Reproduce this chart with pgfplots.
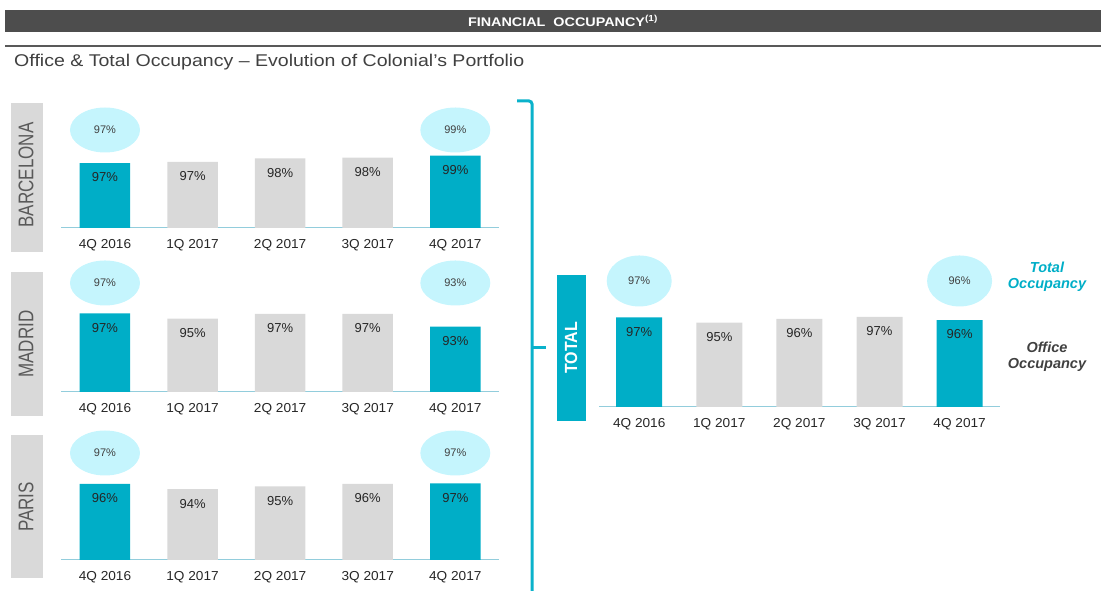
\documentclass[border=0pt]{standalone}
\usepackage{fontspec}
\setmainfont{Liberation Sans}
\usepackage{pgfplots}
\pgfplotsset{compat=1.18}
\usetikzlibrary{shapes.geometric}
\definecolor{cyanbar}{HTML}{00AEC7}
\definecolor{graybar}{HTML}{D9D9D9}
\definecolor{ellcol}{HTML}{C5F5FD}
\definecolor{basecol}{HTML}{92CDDC}
\definecolor{bracketcol}{HTML}{0AB2CB}
\definecolor{headcol}{HTML}{4D4D4D}
\definecolor{labcol}{HTML}{262626}
\definecolor{boxtext}{HTML}{595959}
\definecolor{elltext}{HTML}{404040}
\definecolor{subcol}{HTML}{404040}

\pgfplotsset{
  occ/.style={scale only axis, anchor=south west,
    xmin=-0.5, xmax=4.5,
    axis x line=bottom, axis y line=none,
    x axis line style={-, draw=basecol, line width=1pt},
    xtick={0,1,2,3,4},
    xticklabels={4Q 2016,1Q 2017,2Q 2017,3Q 2017,4Q 2017},
    ytick=\empty,
    major tick length=0pt,
    xticklabel style={font=\fontsize{13}{15}\selectfont, text=labcol, inner sep=0pt, anchor=north, yshift=-11pt, xscale=1.05}},
  cbar/.style={ybar, bar shift=0pt, fill=cyanbar, draw=none},
  gbar/.style={ybar, bar shift=0pt, fill=graybar, draw=none},
  barlab/.style={nodes near coords, point meta=explicit symbolic,
    every node near coord/.style={anchor=north, inner sep=0pt, yshift=-9.5pt, font=\fontsize{13}{15}\selectfont, text=labcol}},
  ell/.style 2 args={draw=none, mark=none, nodes near coords, point meta=explicit symbolic,
    every node near coord/.style={ellipse, fill=ellcol, minimum width=#1, minimum height=#2, inner sep=0pt, anchor=center, font=\fontsize{11}{13}\selectfont, text=elltext}},
}

\begin{document}
\begin{tikzpicture}
\useasboundingbox (0,0) rectangle (1101pt,591pt);
% header
\fill[headcol] (5pt,559pt) rectangle (1101pt,581pt);
\node[text=white, font=\bfseries\fontsize{12.5}{14}\selectfont, xscale=1.15] at (563pt,570pt) {FINANCIAL\ \ OCCUPANCY\textsuperscript{(1)}};
\draw[boxtext, line width=2pt] (5pt,545pt) -- (1101pt,545pt);
\node[anchor=base west, text=subcol, font=\fontsize{17}{19}\selectfont, inner sep=0pt, xscale=1.15] at (14pt,524.5pt) {Office \& Total Occupancy -- Evolution of Colonial's Portfolio};

% side label boxes
\fill[graybar] (11pt,488pt) rectangle (43pt,339pt);
\fill[graybar] (11pt,319pt) rectangle (43pt,175pt);
\fill[graybar] (11pt,156pt) rectangle (43pt,13pt);
\node[xscale=1.25, rotate=90, text=boxtext, font=\fontsize{17}{19}\selectfont] at (26pt,416pt) {BARCELONA};
\node[xscale=1.25, rotate=90, text=boxtext, font=\fontsize{17}{19}\selectfont] at (26pt,247pt) {MADRID};
\node[xscale=1.25, rotate=90, text=boxtext, font=\fontsize{17}{19}\selectfont] at (26pt,84pt) {PARIS};

% bracket
\draw[bracketcol, line width=3pt, rounded corners=3pt] (517pt,490pt) -- (532pt,490pt) -- (532pt,-5pt);
\draw[bracketcol, line width=3pt] (531pt,243pt) -- (546pt,243pt);

% TOTAL box
\fill[cyanbar] (556.5pt,316pt) rectangle (586pt,170pt);
\node[xscale=1.1, rotate=90, text=white, font=\bfseries\fontsize{16}{18}\selectfont] at (571pt,243pt) {TOTAL};

% legend text
\node[text=cyanbar, font=\bfseries\itshape\fontsize{14.5}{16}\selectfont] at (1047pt,324pt) {Total};
\node[text=cyanbar, font=\bfseries\itshape\fontsize{14.5}{16}\selectfont] at (1047pt,306pt) {Occupancy};
\node[text=subcol, font=\bfseries\itshape\fontsize{14.5}{16}\selectfont] at (1047pt,244pt) {Office};
\node[text=subcol, font=\bfseries\itshape\fontsize{14.5}{16}\selectfont] at (1047pt,226pt) {Occupancy};

% BARCELONA
\begin{axis}[occ, at={(61.2pt,363pt)}, width=437.9pt, height=160pt, ymin=80.8, ymax=120.8]
\addplot[cbar, bar width=50.5pt, barlab] coordinates {(0,97.0)[97\%] (4,98.9)[99\%]};
\addplot[gbar, bar width=50.5pt, barlab] coordinates {(1,97.3)[97\%] (2,98.2)[98\%] (3,98.4)[98\%]};
\addplot[ell={70pt}{45pt}] coordinates {(0,105.3)[97\%] (4,105.3)[99\%]};
\end{axis}

% MADRID
\begin{axis}[occ, at={(61.2pt,199pt)}, width=437.9pt, height=160pt, ymin=73.5, ymax=121.26]
\addplot[cbar, bar width=50.5pt, barlab] coordinates {(0,97.0)[97\%] (4,93.0)[93\%]};
\addplot[gbar, bar width=50.5pt, barlab] coordinates {(1,95.4)[95\%] (2,96.8)[97\%] (3,96.8)[97\%]};
\addplot[ell={70pt}{45pt}] coordinates {(0,106.04)[97\%] (4,106.04)[93\%]};
\end{axis}

% PARIS
\begin{axis}[occ, at={(61.2pt,31pt)}, width=437.9pt, height=160pt, ymin=67.6, ymax=127.98]
\addplot[cbar, bar width=50.5pt, barlab] coordinates {(0,96.3)[96\%] (4,96.5)[97\%]};
\addplot[gbar, bar width=50.5pt, barlab] coordinates {(1,94.3)[94\%] (2,95.4)[95\%] (3,96.3)[96\%]};
\addplot[ell={70pt}{45pt}] coordinates {(0,107.98)[97\%] (4,107.98)[97\%]};
\end{axis}

% TOTAL
\begin{axis}[occ, at={(599.15pt,184pt)}, width=400.5pt, height=170pt, ymin=63.8, ymax=126.76]
\addplot[cbar, bar width=46pt, barlab] coordinates {(0,97.0)[97\%] (4,96.0)[96\%]};
\addplot[gbar, bar width=46pt, barlab] coordinates {(1,95.0)[95\%] (2,96.4)[96\%] (3,97.2)[97\%]};
\addplot[ell={65pt}{51pt}] coordinates {(0,110.47)[97\%] (4,110.47)[96\%]};
\end{axis}
\end{tikzpicture}
\end{document}
